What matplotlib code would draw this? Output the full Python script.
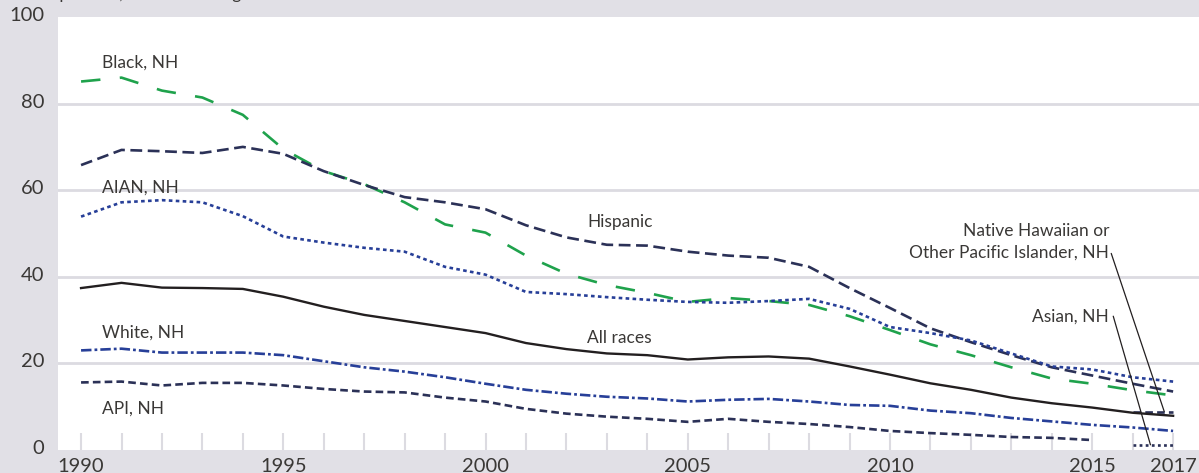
import matplotlib
matplotlib.use("Agg")
import matplotlib.pyplot as plt
import matplotlib.transforms as mtransforms
from matplotlib.ticker import FixedLocator, NullFormatter

plt.rcParams['font.family'] = ['Lato', 'DejaVu Sans']
plt.rcParams['lines.scale_dashes'] = False

years = list(range(1990, 2018))
years_api = list(range(1990, 2016))
years_new = [2016, 2017]

black_nh = [85.1, 86.0, 83.0, 81.4, 77.4, 69.5, 64.4, 61.4, 57.2, 52.1,
            50.2, 44.9, 40.7, 38.1, 36.3, 34.2, 35.1, 34.4, 33.5, 30.9,
            27.7, 24.4, 21.9, 19.1, 16.5, 15.3, 13.8, 12.6]
hispanic = [65.8, 69.3, 69.0, 68.6, 70.0, 68.4, 64.4, 61.2, 58.4, 57.2,
            55.6, 51.9, 49.1, 47.4, 47.2, 45.8, 44.9, 44.4, 42.3, 37.4,
            32.8, 28.1, 24.9, 21.9, 19.1, 17.2, 15.3, 13.5]
aian_nh = [53.9, 57.2, 57.7, 57.2, 54.0, 49.3, 47.9, 46.7, 45.8, 42.3,
           40.5, 36.5, 36.0, 35.3, 34.7, 34.2, 34.0, 34.4, 34.9, 32.6,
           28.4, 27.0, 25.3, 22.3, 19.3, 18.6, 16.8, 15.8]
all_races = [37.4, 38.6, 37.5, 37.4, 37.2, 35.4, 33.1, 31.2, 29.8, 28.4,
             27.0, 24.7, 23.3, 22.3, 21.9, 20.9, 21.4, 21.6, 21.1, 19.3,
             17.4, 15.4, 13.9, 12.1, 10.8, 9.8, 8.6, 7.9]
white_nh = [23.0, 23.4, 22.5, 22.5, 22.5, 21.9, 20.5, 19.1, 18.1, 16.8,
            15.3, 13.9, 13.0, 12.3, 11.9, 11.2, 11.6, 11.8, 11.2, 10.4,
            10.2, 9.1, 8.5, 7.4, 6.6, 5.8, 5.2, 4.4]
api_nh = [15.6, 15.8, 14.9, 15.5, 15.5, 14.9, 14.1, 13.5, 13.3, 12.1,
          11.2, 9.5, 8.4, 7.7, 7.2, 6.5, 7.2, 6.5, 6.0, 5.3,
          4.4, 3.9, 3.5, 3.0, 2.8, 2.3]
nhopi_nh = [8.7, 8.7]
asian_nh = [1.1, 1.1]

xtick_labels = [1990, 1995, 2000, 2005, 2010, 2015, 2017]

BG = '#e1e0e6'
GRID = '#dcdbe1'
NAVY = '#2b3157'
BLUE = '#273f98'
GREEN = '#1fa24c'
BLACK = '#231f20'
TXT = '#3a3836'

fig = plt.figure(figsize=(11.99, 4.73), dpi=100, facecolor=BG)
W, H = 1199, 473
ax = fig.add_axes([58 / W, 23 / H, (W - 58) / W, (450 - 17) / H])
ax.set_facecolor('white')
for s in ax.spines.values():
    s.set_visible(False)

ax.set_xlim(1989.43, 2017.64)
ax.set_ylim(0, 100)

for v in [20, 40, 60, 80]:
    ax.axhline(v, color=GRID, lw=2.0, zorder=1)

lw = 1.9
ax.plot(years, black_nh, color=GREEN, lw=lw, dashes=(14, 14), zorder=3)
ax.plot(years, hispanic, color=NAVY, lw=lw, dashes=(8.5, 4.0), zorder=3)
ax.plot(years, aian_nh, color=BLUE, lw=lw, dashes=(2.6, 2.4), zorder=3)
ax.plot(years, all_races, color=BLACK, lw=1.7, zorder=4)
ax.plot(years, white_nh, color=BLUE, lw=lw, dashes=(7.5, 2.2, 2.0, 2.2), zorder=3)
ax.plot(years_api, api_nh, color=NAVY, lw=lw, dashes=(5.5, 3.0), zorder=3)
ax.plot(years_new, nhopi_nh, color=NAVY, lw=lw, dashes=(5.5, 3.0), zorder=3)
ax.plot(years_new, asian_nh, color=NAVY, lw=lw, dashes=(2.0, 2.4), zorder=3)

ax.set_yticks([0, 20, 40, 60, 80, 100])
ax.set_yticklabels(['0', '20', '40', '60', '80', '100'])
ax.tick_params(axis='y', length=0, pad=10, labelsize=14.5, labelcolor=TXT)
shift = mtransforms.ScaledTranslation(0, 3 / 100, fig.dpi_scale_trans)
for lab in ax.get_yticklabels():
    lab.set_transform(lab.get_transform() + shift)

ax.xaxis.set_major_locator(FixedLocator(xtick_labels))
ax.set_xticklabels([str(y) for y in xtick_labels])
ax.xaxis.set_minor_locator(FixedLocator(years))
ax.xaxis.set_minor_formatter(NullFormatter())
ax.tick_params(axis='x', which='both', direction='in', length=12,
               width=1.5, color=GRID, pad=5.5, labelsize=14.5, labelcolor=TXT)

fs = 12.5
ax.text(1990.52, 89.5, 'Black, NH', fontsize=fs, color=TXT, va='center', ha='left')
ax.text(1990.52, 60.5, 'AIAN, NH', fontsize=fs, color=TXT, va='center', ha='left')
ax.text(2002.52, 52.6, 'Hispanic', fontsize=fs, color=TXT, va='center', ha='left')
ax.text(2002.52, 25.8, 'All races', fontsize=fs, color=TXT, va='center', ha='left')
ax.text(1990.52, 27.0, 'White, NH', fontsize=fs, color=TXT, va='center', ha='left')
ax.text(1990.52, 9.6, 'API, NH', fontsize=fs, color=TXT, va='center', ha='left')
ax.text(2015.42, 48.1, 'Native Hawaiian or\nOther Pacific Islander, NH', fontsize=fs,
        color=TXT, va='center', ha='right', multialignment='right', linespacing=1.45)
ax.text(2015.42, 30.7, 'Asian, NH', fontsize=fs, color=TXT, va='center', ha='right')

ax.annotate('', xy=(2016.78, 8.9), xytext=(2015.47, 45.4),
            arrowprops=dict(arrowstyle='-', color=BLACK, lw=0.9, shrinkA=0, shrinkB=0))
ax.annotate('', xy=(2016.44, 1.2), xytext=(2015.52, 30.9),
            arrowprops=dict(arrowstyle='-', color=BLACK, lw=0.9, shrinkA=0, shrinkB=0))

fig.text(20 / W, 1 + 1 / H, 'Rate per 100,000 children aged 1\u20134', fontsize=12.5,
         color=TXT, ha='left', va='baseline')

fig.savefig('out.png', dpi=100, facecolor=BG)
